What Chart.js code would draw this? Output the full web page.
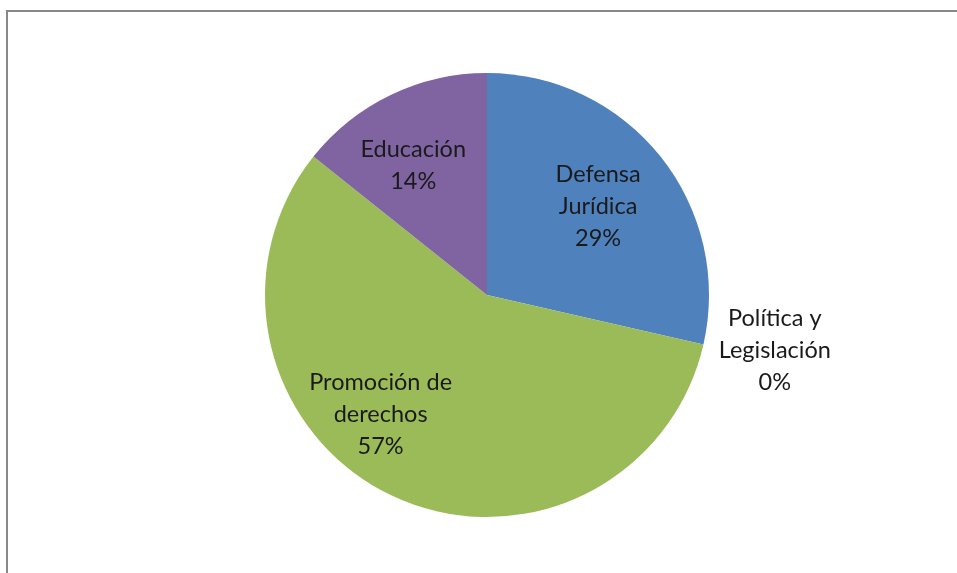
<!DOCTYPE html>
<html>
<head>
<meta charset="utf-8">
<script src="https://cdn.jsdelivr.net/npm/chart.js@4"></script>
<style>
html,body{margin:0;padding:0;background:#fff;}
#wrap{width:957px;height:573px;position:relative;}
</style>
</head>
<body>
<div id="wrap"><canvas id="c" width="957" height="573"></canvas></div>
<script>
const categories = ["Defensa Jurídica", "Política y Legislación", "Promoción de derechos", "Educación"];
const labelLines = [["Defensa", "Jurídica"], ["Política y", "Legislación"], ["Promoción de", "derechos"], ["Educación"]];
const values = [2, 0, 4, 1];
const colors = ["#4F81BD", "#C0504D", "#9BBB59", "#8064A2"];

const total = values.reduce((a, b) => a + b, 0);

// label placement: radius factor and angle tweak (degrees) per slice
const labelPlace = [
  { r: 0.64, da: 0 },
  { r: 1.32, da: -2 },
  { r: 0.72, da: 16 },
  { r: 0.67, da: -4 }
];

const framePlugin = {
  id: 'frame',
  beforeDraw(chart) {
    const ctx = chart.ctx;
    ctx.save();
    ctx.fillStyle = '#fff';
    ctx.fillRect(0, 0, chart.width, chart.height);
    ctx.strokeStyle = '#888888';
    ctx.lineWidth = 2;
    ctx.beginPath();
    ctx.moveTo(7, chart.height);
    ctx.lineTo(7, 11);
    ctx.lineTo(chart.width, 11);
    ctx.stroke();
    ctx.restore();
  }
};

const labelPlugin = {
  id: 'sliceLabels',
  afterDatasetsDraw(chart) {
    const ctx = chart.ctx;
    const meta = chart.getDatasetMeta(0);
    ctx.save();
    ctx.font = '23.5px Lato, "Open Sans", sans-serif';
    ctx.fillStyle = '#1a1a1a';
    ctx.textAlign = 'center';
    ctx.textBaseline = 'middle';
    const lh = 32;
    meta.data.forEach((arc, i) => {
      const p = arc.getProps(['x', 'y', 'startAngle', 'endAngle', 'outerRadius'], true);
      const mid = (p.startAngle + p.endAngle) / 2 + labelPlace[i].da * Math.PI / 180;
      const rr = p.outerRadius * labelPlace[i].r;
      const cx = p.x + Math.cos(mid) * rr;
      const cy = p.y + Math.sin(mid) * rr;
      const pct = Math.round(values[i] / total * 100) + '%';
      const lines = labelLines[i].concat([pct]);
      const y0 = cy - (lines.length - 1) * lh / 2;
      lines.forEach((t, k) => ctx.fillText(t, cx, y0 + k * lh));
    });
    ctx.restore();
  }
};

new Chart(document.getElementById('c'), {
  type: 'pie',
  data: {
    labels: categories,
    datasets: [{
      data: values,
      backgroundColor: colors,
      borderWidth: 0
    }]
  },
  options: {
    responsive: false,
    animation: false,
    layout: { padding: { left: 265, right: 248, top: 73, bottom: 56 } },
    plugins: {
      legend: { display: false },
      tooltip: { enabled: false }
    }
  },
  plugins: [framePlugin, labelPlugin]
});
</script>
</body>
</html>
